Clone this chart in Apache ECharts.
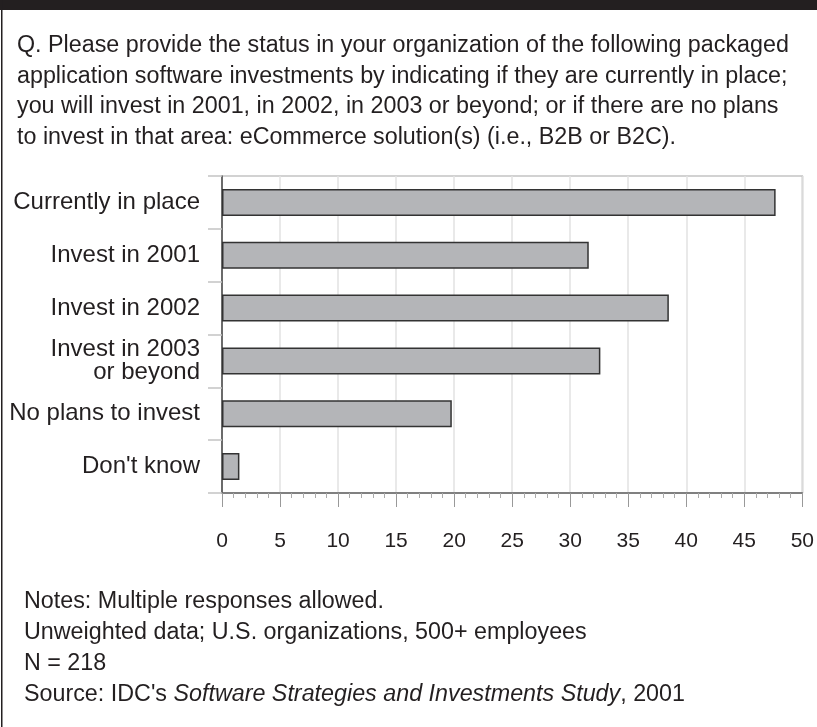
<!DOCTYPE html>
<html>
<head>
<meta charset="utf-8">
<script src="https://cdn.jsdelivr.net/npm/echarts@6/dist/echarts.min.js"></script>
<style>
html,body{margin:0;padding:0;background:#fff;}
#chart{width:817px;height:727px;}
</style>
</head>
<body>
<div id="chart"></div>
<script>
const categories = ["Currently in place", "Invest in 2001", "Invest in 2002", "Invest in 2003\nor beyond", "No plans to invest", "Don't know"];
const values = [47.7, 31.6, 38.5, 32.6, 19.8, 1.5];
const xTicks = [0, 5, 10, 15, 20, 25, 30, 35, 40, 45, 50];
const titleLines = [
  "Q. Please provide the status in your organization of the following packaged",
  "application software investments by indicating if they are currently in place;",
  "you will invest in 2001, in 2002, in 2003 or beyond; or if there are no plans",
  "to invest in that area: eCommerce solution(s) (i.e., B2B or B2C)."
];
const noteLines = [
  "Notes: Multiple responses allowed.",
  "Unweighted data; U.S. organizations, 500+ employees",
  "N = 218",
  "Source: IDC's {i|Software Strategies and Investments Study}, 2001"
];

const FONT = "'Liberation Sans', Arial, Helvetica, sans-serif";
const INK = '#231f20';
const chart = echarts.init(document.getElementById('chart'));

const graphics = [
  {type: 'rect', shape: {x: 0, y: 0, width: 817, height: 10}, style: {fill: INK}},
  {type: 'rect', shape: {x: 1, y: 0, width: 1.5, height: 727}, style: {fill: INK}}
];
titleLines.forEach((t, i) => {
  graphics.push({type: 'text', x: 17, y: 46 + i * 30.5,
    style: {text: t, font: '23.3px ' + FONT, fill: INK, verticalAlign: 'middle', align: 'left'}});
});
noteLines.forEach((t, i) => {
  graphics.push({type: 'text', x: 24, y: 602 + i * 31,
    style: {text: t, fontSize: 23.3, fontFamily: FONT, fill: INK, verticalAlign: 'middle', align: 'left',
      rich: {i: {fontSize: 23.3, fontFamily: FONT, fontStyle: 'italic', fill: INK}}}});
});

chart.setOption({
  animation: false,
  backgroundColor: '#fff',
  grid: {left: 222, right: 10, top: 176, bottom: 234, show: true, borderColor: '#c4c4c4', borderWidth: 1.5, containLabel: false},
  xAxis: {
    type: 'value', min: xTicks[0], max: xTicks[xTicks.length - 1], interval: 5,
    axisLine: {show: true, lineStyle: {color: '#666', width: 1.5}},
    axisTick: {show: true, length: 14, lineStyle: {color: '#999', width: 1}},
    minorTick: {show: true, splitNumber: 5, length: 5, lineStyle: {color: '#aaa', width: 1}},
    splitLine: {show: true, lineStyle: {color: '#e2e2e2', width: 1.5}},
    axisLabel: {margin: 38, fontSize: 21, fontFamily: FONT, color: INK}
  },
  yAxis: {
    type: 'category', data: categories, inverse: true,
    axisLine: {show: true, lineStyle: {color: '#444', width: 1.5}},
    axisTick: {show: true, length: 14, lineStyle: {color: '#c4c4c4', width: 1.5}},
    axisLabel: {margin: 22, fontSize: 24, fontFamily: FONT, color: INK, lineHeight: 23}
  },
  series: [{
    type: 'bar', data: values, barWidth: 27,
    itemStyle: {color: '#b4b5b8', borderColor: '#333', borderWidth: 1.5}
  }],
  graphic: graphics
});
</script>
</body>
</html>
